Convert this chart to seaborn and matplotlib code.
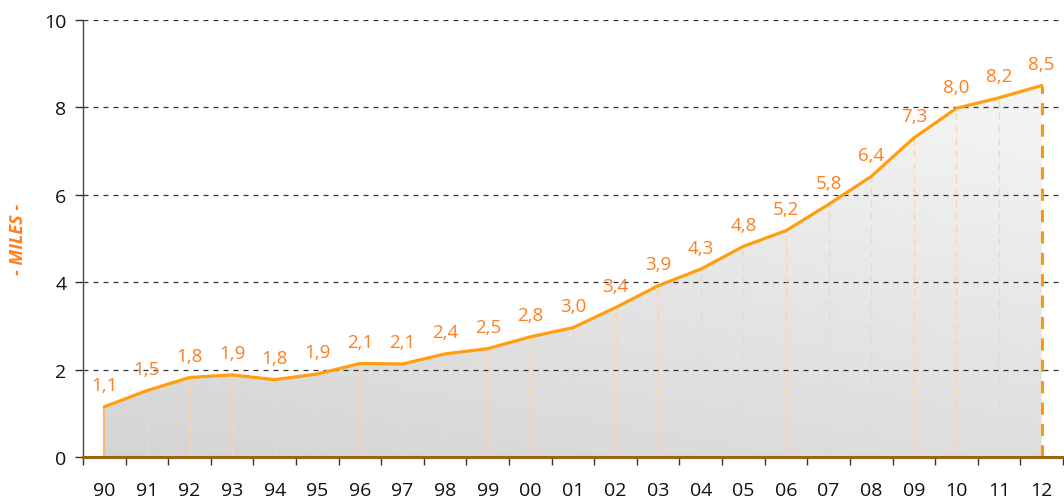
import numpy as np
import pandas as pd
import matplotlib
matplotlib.use("Agg")
import matplotlib.pyplot as plt
import seaborn as sns

years = ["90", "91", "92", "93", "94", "95", "96", "97", "98", "99", "00", "01",
         "02", "03", "04", "05", "06", "07", "08", "09", "10", "11", "12"]
values = [1.15, 1.52, 1.82, 1.88, 1.77, 1.9, 2.14, 2.13, 2.36, 2.48, 2.75, 2.96,
          3.42, 3.92, 4.3, 4.82, 5.18, 5.78, 6.42, 7.3, 7.98, 8.22, 8.5]
labels = ["1,1", "1,5", "1,8", "1,9", "1,8", "1,9", "2,1", "2,1", "2,4", "2,5", "2,8", "3,0",
          "3,4", "3,9", "4,3", "4,8", "5,2", "5,8", "6,4", "7,3", "8,0", "8,2", "8,5"]
yticks = [0, 2, 4, 6, 8, 10]

sns.set_theme(style="white")
plt.rcParams['font.family'] = ['Open Sans', 'DejaVu Sans']

df = pd.DataFrame({"x": np.arange(len(years)), "y": values})

fig = plt.figure(figsize=(10.64, 5.02), dpi=100)
ax = fig.add_axes([0.078, 0.0876, 0.921, 0.8706])

# gradient fill under the line
poly = ax.fill_between(df["x"], 0, df["y"], color="none", lw=0, zorder=1)
grad = np.linspace(0, 1, 256)
gx, gy = np.meshgrid(grad, grad)
img = 0.83 + 0.09 * gy + 0.04 * gx
img = np.clip(img, 0, 1)
im = ax.imshow(img, cmap="gray", vmin=0, vmax=1, origin="lower",
               extent=[df["x"].iloc[0], df["x"].iloc[-1], 0, max(values)],
               aspect="auto", zorder=1, interpolation="bilinear")
path = poly.get_paths()[0]
im.set_clip_path(path, transform=ax.transData)

# drop lines
for i, (x, y) in enumerate(zip(df["x"], df["y"])):
    if i == len(values) - 1:
        ax.plot([x, x], [0, y], color="#FF9900", lw=2.2, ls=(0, (4, 3)), zorder=3)
    elif i == 0:
        ax.plot([x, x], [0, y], color="#FFB870", lw=1.5, zorder=3)
    else:
        ax.plot([x, x], [0, y], color="#FFD5A8", lw=1.0, ls=(0, (5, 4)), zorder=3)

sns.lineplot(data=df, x="x", y="y", ax=ax, color="#FF9E0F", lw=2.3, zorder=4)

for x, y, t in zip(df["x"], df["y"], labels):
    ax.annotate(t, (x, y), xytext=(0, 9), textcoords="offset points",
                ha="center", va="bottom", color="#FF7F1E", fontsize=13.5, zorder=5)

ax.set_xlim(-0.5, len(years) - 0.5)
ax.set_ylim(0, 10)
ax.set_yticks(yticks)
ax.set_yticklabels([str(v) for v in yticks], fontsize=14, color="#111111")
ax.set_xticks(np.arange(len(years)))
ax.set_xticklabels(years, fontsize=14, color="#111111")
ax.set_xticks(np.arange(len(years) + 1) - 0.5, minor=True)
ax.tick_params(axis="x", which="major", length=0, pad=17)
ax.tick_params(axis="x", which="minor", length=6, width=1, color="#333333", direction="out", bottom=True)
ax.tick_params(axis="y", length=6, width=1, color="#333333", direction="out", left=True, pad=6)

for yv in yticks[1:]:
    ax.axhline(yv, color="#333333", lw=0.9, ls=(0, (4, 4)), zorder=2)

ax.set_xlabel("")
ax.set_ylabel("- MILES -", color="#FF7F1E", fontsize=13, fontstyle="italic",
              fontweight="bold", labelpad=12)

for s in ["top", "right"]:
    ax.spines[s].set_visible(False)
ax.spines["left"].set_color("#444444")
ax.spines["left"].set_linewidth(1)
ax.spines["bottom"].set_color("#996515")
ax.spines["bottom"].set_linewidth(2.2)
ax.spines["bottom"].set_zorder(6)

fig.savefig("out.png", dpi=100)
